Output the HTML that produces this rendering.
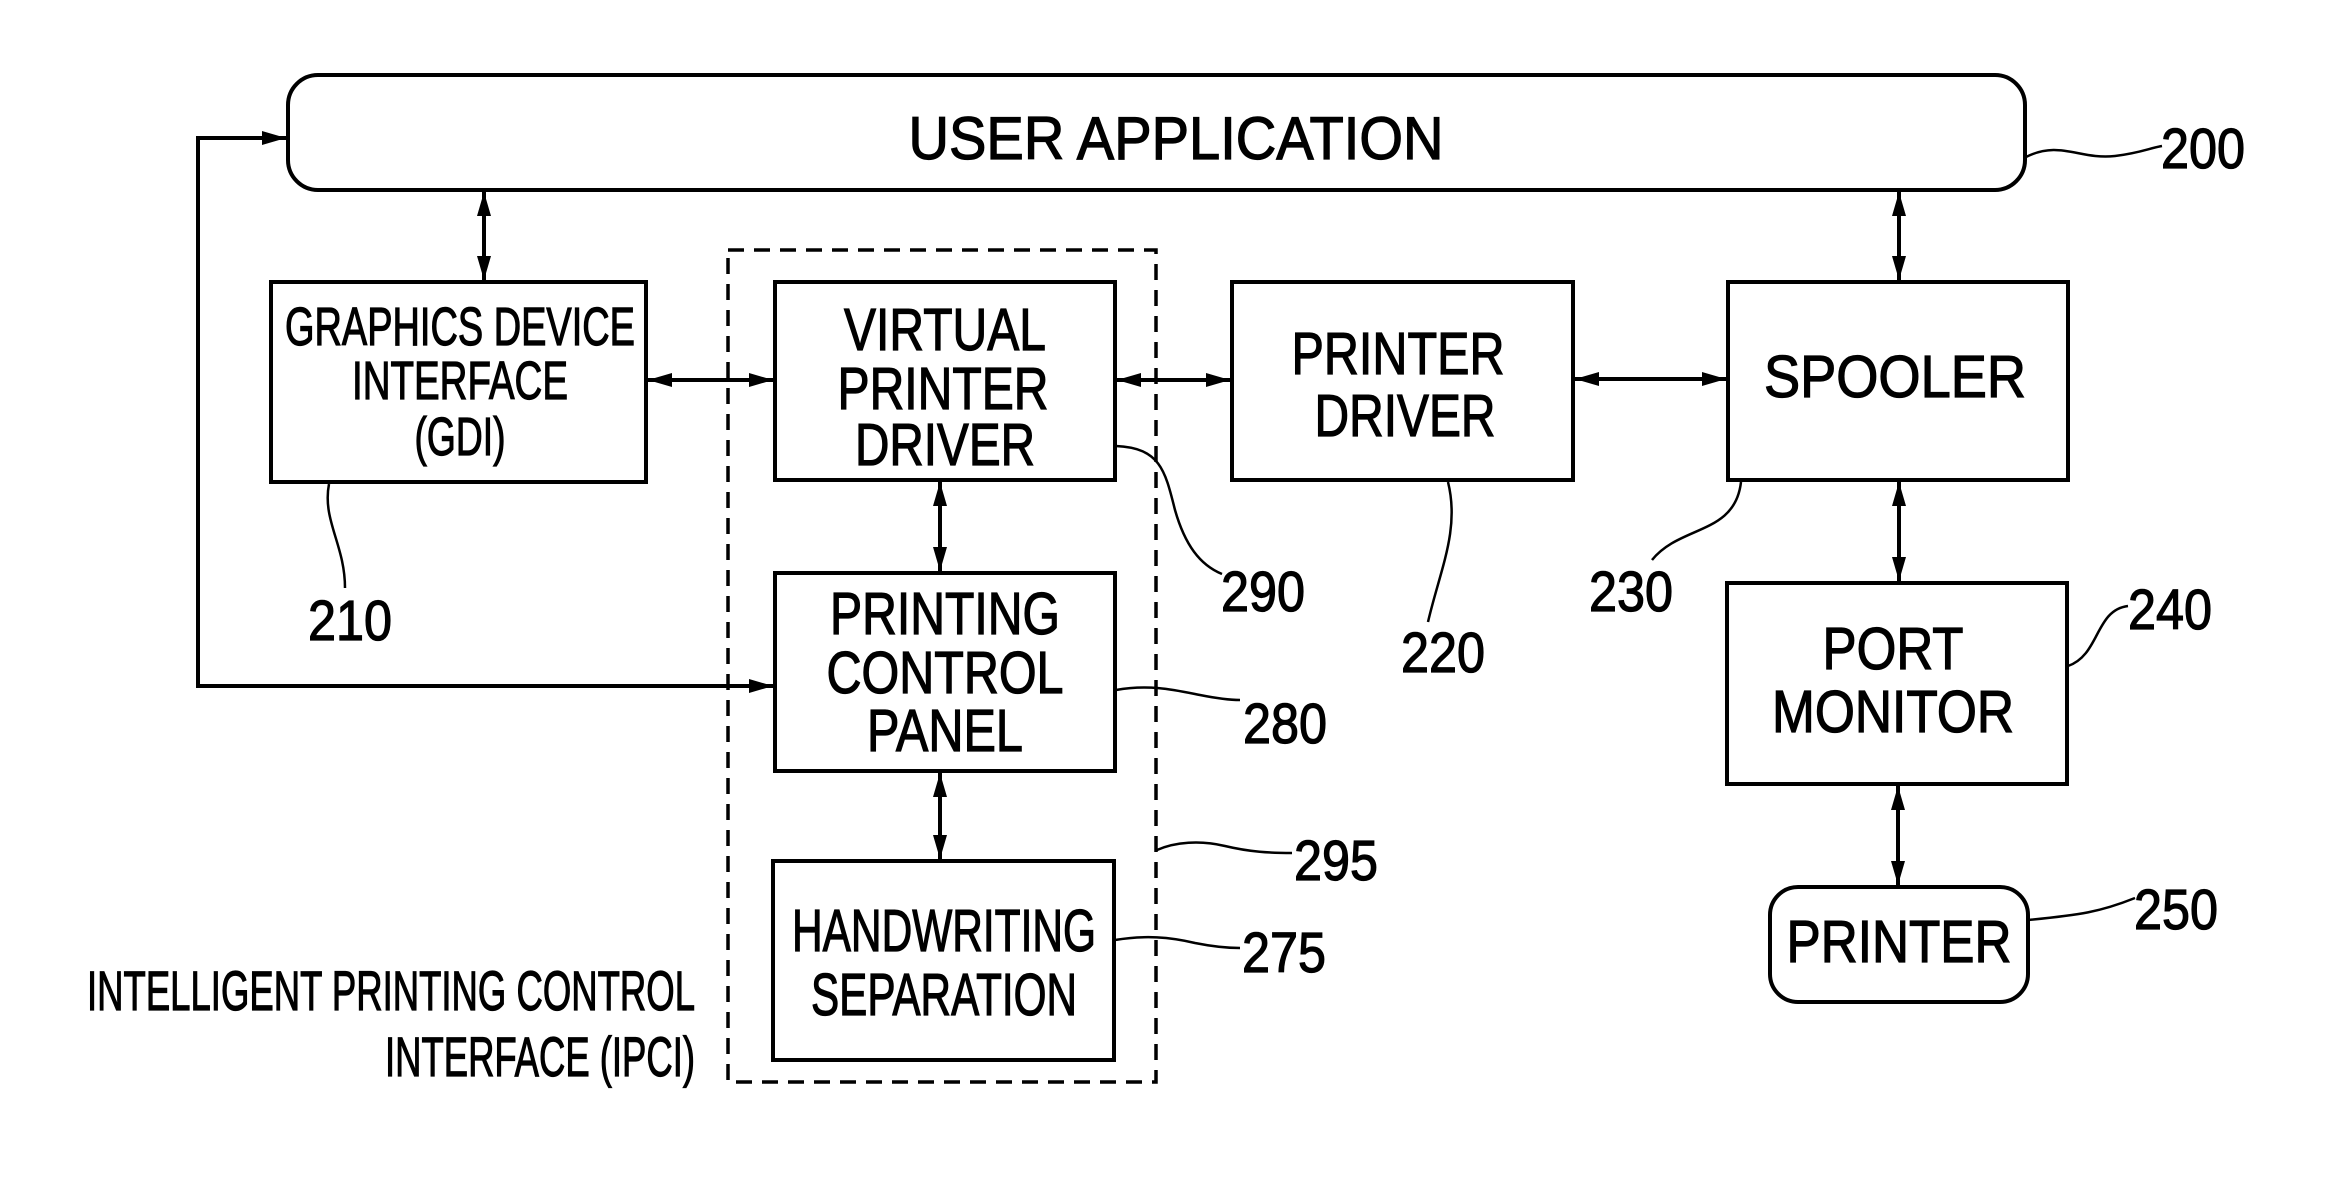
<!DOCTYPE html>
<html><head><meta charset="utf-8"><style>html,body{margin:0;padding:0;background:#fff}svg{display:block}</style></head>
<body>
<svg width="2329" height="1192" viewBox="0 0 2329 1192" xmlns="http://www.w3.org/2000/svg" font-family="Liberation Sans, sans-serif">
<defs>
<marker id="a" viewBox="0 0 24 14" refX="24" refY="7" markerWidth="24" markerHeight="14" markerUnits="userSpaceOnUse" orient="auto-start-reverse"><path d="M0,0 L24,7 L0,14 z" fill="#000"/></marker>
</defs>
<g fill="none" stroke="#000" stroke-width="4">
<rect x="288" y="75" width="1737" height="115" rx="30"/>
<rect x="271" y="282" width="375" height="200"/>
<rect x="775" y="282" width="340" height="198"/>
<rect x="775" y="573" width="340" height="198"/>
<rect x="773" y="861" width="341" height="199"/>
<rect x="1232" y="282" width="341" height="198"/>
<rect x="1728" y="282" width="340" height="198"/>
<rect x="1727" y="583" width="340" height="201"/>
<rect x="1770" y="887" width="258" height="115" rx="28"/>
<rect x="728" y="250" width="428" height="832" stroke-dasharray="16,10" stroke-width="3.5"/>
</g>
<g fill="none" stroke="#000" stroke-width="4" marker-start="url(#a)" marker-end="url(#a)">
<line x1="484" y1="192" x2="484" y2="280"/>
<line x1="648" y1="380" x2="773" y2="380"/>
<line x1="1117" y1="380" x2="1230" y2="380"/>
<line x1="1575" y1="379" x2="1726" y2="379"/>
<line x1="940" y1="482" x2="940" y2="571"/>
<line x1="940" y1="773" x2="940" y2="859"/>
<line x1="1899" y1="192" x2="1899" y2="280"/>
<line x1="1899" y1="482" x2="1899" y2="581"/>
<line x1="1898" y1="786" x2="1898" y2="885"/>
</g>
<polyline points="286,138 198,138 198,686 773,686" fill="none" stroke="#000" stroke-width="4" marker-end="url(#a)"/>
<path d="M240,138 L286,138" stroke="#000" stroke-width="4" marker-end="url(#a)"/>
<g fill="none" stroke="#000" stroke-width="2.5">
<path d="M2026,157 C2060,140 2080,160 2115,156 C2140,153 2150,148 2162,146"/>
<path d="M329,484 C322,520 345,545 345,588"/>
<path d="M1116,446 C1160,448 1165,470 1175,510 C1185,545 1200,565 1222,574"/>
<path d="M1116,690 C1150,684 1175,690 1200,695 C1215,698 1230,700 1240,700"/>
<path d="M1157,850 C1175,842 1200,840 1225,846 C1250,852 1270,853 1292,853"/>
<path d="M1115,940 C1145,935 1170,937 1195,943 C1215,947 1230,948 1240,948"/>
<path d="M1448,482 C1460,530 1440,570 1428,622"/>
<path d="M1741,482 C1735,535 1680,525 1652,560"/>
<path d="M2068,666 C2100,655 2095,610 2128,606"/>
<path d="M2028,920 C2080,915 2100,912 2135,898"/>
</g>
<g fill="#000" stroke="#000" stroke-width="1.2" text-anchor="middle">
<text x="1176" y="159" font-size="60" textLength="535" lengthAdjust="spacingAndGlyphs">USER APPLICATION</text>
<text x="460" y="345" font-size="54" textLength="350" lengthAdjust="spacingAndGlyphs">GRAPHICS DEVICE</text>
<text x="460" y="399" font-size="54" textLength="216" lengthAdjust="spacingAndGlyphs">INTERFACE</text>
<text x="460" y="455" font-size="54" textLength="91" lengthAdjust="spacingAndGlyphs">(GDI)</text>
<text x="945" y="350" font-size="59" textLength="202" lengthAdjust="spacingAndGlyphs">VIRTUAL</text>
<text x="943" y="409" font-size="59" textLength="211" lengthAdjust="spacingAndGlyphs">PRINTER</text>
<text x="945" y="465" font-size="59" textLength="180" lengthAdjust="spacingAndGlyphs">DRIVER</text>
<text x="945" y="634" font-size="59" textLength="230" lengthAdjust="spacingAndGlyphs">PRINTING</text>
<text x="945" y="693" font-size="59" textLength="237" lengthAdjust="spacingAndGlyphs">CONTROL</text>
<text x="945" y="751" font-size="59" textLength="156" lengthAdjust="spacingAndGlyphs">PANEL</text>
<text x="944" y="951" font-size="59" textLength="304" lengthAdjust="spacingAndGlyphs">HANDWRITING</text>
<text x="944" y="1015" font-size="59" textLength="266" lengthAdjust="spacingAndGlyphs">SEPARATION</text>
<text x="1398" y="374" font-size="59" textLength="213" lengthAdjust="spacingAndGlyphs">PRINTER</text>
<text x="1405" y="436" font-size="59" textLength="181" lengthAdjust="spacingAndGlyphs">DRIVER</text>
<text x="1895" y="397" font-size="59" textLength="262" lengthAdjust="spacingAndGlyphs">SPOOLER</text>
<text x="1893" y="669" font-size="59" textLength="141" lengthAdjust="spacingAndGlyphs">PORT</text>
<text x="1893" y="732" font-size="59" textLength="242" lengthAdjust="spacingAndGlyphs">MONITOR</text>
<text x="1899" y="962" font-size="59" textLength="225" lengthAdjust="spacingAndGlyphs">PRINTER</text>
<g text-anchor="end">
<text x="695" y="1010" font-size="56" textLength="608" lengthAdjust="spacingAndGlyphs">INTELLIGENT PRINTING CONTROL</text>
<text x="695" y="1076" font-size="56" textLength="310" lengthAdjust="spacingAndGlyphs">INTERFACE (IPCI)</text>
</g>
<g font-size="57">
<text x="2203" y="168" textLength="84" lengthAdjust="spacingAndGlyphs">200</text>
<text x="350" y="640" textLength="84" lengthAdjust="spacingAndGlyphs">210</text>
<text x="1263" y="611" textLength="84" lengthAdjust="spacingAndGlyphs">290</text>
<text x="1443" y="672" textLength="84" lengthAdjust="spacingAndGlyphs">220</text>
<text x="1631" y="611" textLength="84" lengthAdjust="spacingAndGlyphs">230</text>
<text x="2170" y="629" textLength="84" lengthAdjust="spacingAndGlyphs">240</text>
<text x="2176" y="929" textLength="84" lengthAdjust="spacingAndGlyphs">250</text>
<text x="1285" y="743" textLength="84" lengthAdjust="spacingAndGlyphs">280</text>
<text x="1336" y="880" textLength="84" lengthAdjust="spacingAndGlyphs">295</text>
<text x="1284" y="972" textLength="84" lengthAdjust="spacingAndGlyphs">275</text>
</g>
</g>
</svg>
</body></html>
